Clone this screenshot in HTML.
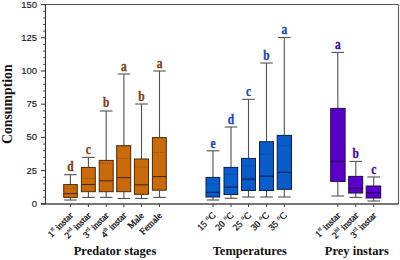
<!DOCTYPE html>
<html><head><meta charset="utf-8"><style>
html,body{margin:0;padding:0;background:#fff;width:400px;height:260px;overflow:hidden}
svg{display:block}
.yt{font-family:"Liberation Sans",sans-serif;font-size:9.5px;fill:#1a1a1a;stroke:#1a1a1a;stroke-width:0.15px}
.lt{font-family:"Liberation Serif",serif;font-weight:bold;font-size:14px}
.xt{font-family:"Liberation Serif",serif;font-size:9.2px;fill:#111;stroke:#111;stroke-width:0.3px}
.sup{font-size:5.3px;stroke-width:0.15px}
.deg{font-size:6px;stroke-width:0.15px}
.gt{font-family:"Liberation Serif",serif;font-weight:bold;font-size:12.5px;fill:#111}
.at{font-family:"Liberation Serif",serif;font-weight:bold;font-size:13.8px;fill:#111}
</style></head><body>
<svg width="400" height="260" viewBox="0 0 400 260">
<line x1="45.45" y1="4.5" x2="398.5" y2="4.5" stroke="#555" stroke-width="1.2"/>
<line x1="398.5" y1="4.5" x2="398.5" y2="204.0" stroke="#666" stroke-width="1.2"/>
<line x1="45.45" y1="3.9" x2="45.45" y2="204.6" stroke="#333" stroke-width="1.1"/>
<line x1="40.95" y1="204.0" x2="398.5" y2="204.0" stroke="#4a4a4a" stroke-width="1.3"/>
<line x1="41" y1="203.80" x2="45.45" y2="203.80" stroke="#333" stroke-width="1"/>
<text x="37" y="206.80" text-anchor="end" class="yt">0</text>
<line x1="43" y1="197.16" x2="45.45" y2="197.16" stroke="#444" stroke-width="0.9"/>
<line x1="43" y1="190.52" x2="45.45" y2="190.52" stroke="#444" stroke-width="0.9"/>
<line x1="43" y1="183.88" x2="45.45" y2="183.88" stroke="#444" stroke-width="0.9"/>
<line x1="43" y1="177.24" x2="45.45" y2="177.24" stroke="#444" stroke-width="0.9"/>
<line x1="41" y1="170.60" x2="45.45" y2="170.60" stroke="#333" stroke-width="1"/>
<text x="37" y="173.60" text-anchor="end" class="yt">25</text>
<line x1="43" y1="163.96" x2="45.45" y2="163.96" stroke="#444" stroke-width="0.9"/>
<line x1="43" y1="157.32" x2="45.45" y2="157.32" stroke="#444" stroke-width="0.9"/>
<line x1="43" y1="150.68" x2="45.45" y2="150.68" stroke="#444" stroke-width="0.9"/>
<line x1="43" y1="144.04" x2="45.45" y2="144.04" stroke="#444" stroke-width="0.9"/>
<line x1="41" y1="137.40" x2="45.45" y2="137.40" stroke="#333" stroke-width="1"/>
<text x="37" y="140.40" text-anchor="end" class="yt">50</text>
<line x1="43" y1="130.76" x2="45.45" y2="130.76" stroke="#444" stroke-width="0.9"/>
<line x1="43" y1="124.12" x2="45.45" y2="124.12" stroke="#444" stroke-width="0.9"/>
<line x1="43" y1="117.48" x2="45.45" y2="117.48" stroke="#444" stroke-width="0.9"/>
<line x1="43" y1="110.84" x2="45.45" y2="110.84" stroke="#444" stroke-width="0.9"/>
<line x1="41" y1="104.20" x2="45.45" y2="104.20" stroke="#333" stroke-width="1"/>
<text x="37" y="107.20" text-anchor="end" class="yt">75</text>
<line x1="43" y1="97.56" x2="45.45" y2="97.56" stroke="#444" stroke-width="0.9"/>
<line x1="43" y1="90.92" x2="45.45" y2="90.92" stroke="#444" stroke-width="0.9"/>
<line x1="43" y1="84.28" x2="45.45" y2="84.28" stroke="#444" stroke-width="0.9"/>
<line x1="43" y1="77.64" x2="45.45" y2="77.64" stroke="#444" stroke-width="0.9"/>
<line x1="41" y1="71.00" x2="45.45" y2="71.00" stroke="#333" stroke-width="1"/>
<text x="37" y="74.00" text-anchor="end" class="yt">100</text>
<line x1="43" y1="64.36" x2="45.45" y2="64.36" stroke="#444" stroke-width="0.9"/>
<line x1="43" y1="57.72" x2="45.45" y2="57.72" stroke="#444" stroke-width="0.9"/>
<line x1="43" y1="51.08" x2="45.45" y2="51.08" stroke="#444" stroke-width="0.9"/>
<line x1="43" y1="44.44" x2="45.45" y2="44.44" stroke="#444" stroke-width="0.9"/>
<line x1="41" y1="37.80" x2="45.45" y2="37.80" stroke="#333" stroke-width="1"/>
<text x="37" y="40.80" text-anchor="end" class="yt">125</text>
<line x1="43" y1="31.16" x2="45.45" y2="31.16" stroke="#444" stroke-width="0.9"/>
<line x1="43" y1="24.52" x2="45.45" y2="24.52" stroke="#444" stroke-width="0.9"/>
<line x1="43" y1="17.88" x2="45.45" y2="17.88" stroke="#444" stroke-width="0.9"/>
<line x1="43" y1="11.24" x2="45.45" y2="11.24" stroke="#444" stroke-width="0.9"/>
<line x1="41" y1="4.60" x2="45.45" y2="4.60" stroke="#333" stroke-width="1"/>
<text x="37" y="7.60" text-anchor="end" class="yt">150</text>
<line x1="70.4" y1="174.7" x2="70.4" y2="184.6" stroke="#525252" stroke-width="1.1"/>
<line x1="70.4" y1="197.4" x2="70.4" y2="200.0" stroke="#525252" stroke-width="1.1"/>
<line x1="64.10000000000001" y1="174.7" x2="76.7" y2="174.7" stroke="#525252" stroke-width="1.1"/>
<line x1="64.10000000000001" y1="200.0" x2="76.7" y2="200.0" stroke="#525252" stroke-width="1.1"/>
<rect x="63.7" y="184.6" width="13.60" height="12.80" fill="#C96A0C" stroke="#4a2a08" stroke-width="1"/>
<line x1="63.7" y1="193.5" x2="77.3" y2="193.5" stroke="#4a2a08" stroke-width="1.1"/>
<line x1="64.7" y1="188.5" x2="76.3" y2="188.5" stroke="#4a2a08" stroke-width="0.9" stroke-dasharray="1,1.2" opacity="0.45"/>
<text transform="translate(70.4,171.30) scale(0.82,1)" text-anchor="middle" class="lt" fill="#7E4414" stroke="#7E4414" stroke-width="0.35">d</text>
<line x1="70.4" y1="204.0" x2="70.4" y2="207.0" stroke="#444" stroke-width="1"/>
<line x1="88.4" y1="157.4" x2="88.4" y2="167.4" stroke="#525252" stroke-width="1.1"/>
<line x1="88.4" y1="191.7" x2="88.4" y2="197.4" stroke="#525252" stroke-width="1.1"/>
<line x1="82.10000000000001" y1="157.4" x2="94.7" y2="157.4" stroke="#525252" stroke-width="1.1"/>
<line x1="82.10000000000001" y1="197.4" x2="94.7" y2="197.4" stroke="#525252" stroke-width="1.1"/>
<rect x="81.4" y="167.4" width="13.90" height="24.30" fill="#C96A0C" stroke="#4a2a08" stroke-width="1"/>
<line x1="81.4" y1="184.5" x2="95.3" y2="184.5" stroke="#4a2a08" stroke-width="1.1"/>
<line x1="82.4" y1="178.5" x2="94.3" y2="178.5" stroke="#4a2a08" stroke-width="0.9" stroke-dasharray="1,1.2" opacity="0.45"/>
<text transform="translate(88.4,153.90) scale(0.82,1)" text-anchor="middle" class="lt" fill="#7E4414" stroke="#7E4414" stroke-width="0.35">c</text>
<line x1="88.4" y1="204.0" x2="88.4" y2="207.0" stroke="#444" stroke-width="1"/>
<line x1="106.2" y1="111.0" x2="106.2" y2="160.4" stroke="#525252" stroke-width="1.1"/>
<line x1="106.2" y1="191.7" x2="106.2" y2="197.4" stroke="#525252" stroke-width="1.1"/>
<line x1="99.9" y1="111.0" x2="112.5" y2="111.0" stroke="#525252" stroke-width="1.1"/>
<line x1="99.9" y1="197.4" x2="112.5" y2="197.4" stroke="#525252" stroke-width="1.1"/>
<rect x="99.2" y="160.4" width="14.00" height="31.30" fill="#C96A0C" stroke="#4a2a08" stroke-width="1"/>
<line x1="99.2" y1="180.8" x2="113.2" y2="180.8" stroke="#4a2a08" stroke-width="1.1"/>
<line x1="100.2" y1="163.6" x2="112.2" y2="163.6" stroke="#4a2a08" stroke-width="0.9" stroke-dasharray="1,1.2" opacity="0.45"/>
<text transform="translate(106.2,106.80) scale(0.82,1)" text-anchor="middle" class="lt" fill="#7E4414" stroke="#7E4414" stroke-width="0.35">b</text>
<line x1="106.2" y1="204.0" x2="106.2" y2="207.0" stroke="#444" stroke-width="1"/>
<line x1="123.9" y1="74.0" x2="123.9" y2="145.70000000000002" stroke="#525252" stroke-width="1.1"/>
<line x1="123.9" y1="191.7" x2="123.9" y2="198.5" stroke="#525252" stroke-width="1.1"/>
<line x1="117.60000000000001" y1="74.0" x2="130.20000000000002" y2="74.0" stroke="#525252" stroke-width="1.1"/>
<line x1="117.60000000000001" y1="198.5" x2="130.20000000000002" y2="198.5" stroke="#525252" stroke-width="1.1"/>
<rect x="116.7" y="145.70000000000002" width="14.00" height="46.00" fill="#C96A0C" stroke="#4a2a08" stroke-width="1"/>
<line x1="116.7" y1="177.60000000000002" x2="130.7" y2="177.60000000000002" stroke="#4a2a08" stroke-width="1.1"/>
<line x1="117.7" y1="158.4" x2="129.7" y2="158.4" stroke="#4a2a08" stroke-width="0.9" stroke-dasharray="1,1.2" opacity="0.45"/>
<text transform="translate(123.9,71.30) scale(0.82,1)" text-anchor="middle" class="lt" fill="#7E4414" stroke="#7E4414" stroke-width="0.35">a</text>
<line x1="123.9" y1="204.0" x2="123.9" y2="207.0" stroke="#444" stroke-width="1"/>
<line x1="141.5" y1="104.0" x2="141.5" y2="159.0" stroke="#525252" stroke-width="1.1"/>
<line x1="141.5" y1="194.3" x2="141.5" y2="198.5" stroke="#525252" stroke-width="1.1"/>
<line x1="135.2" y1="104.0" x2="147.8" y2="104.0" stroke="#525252" stroke-width="1.1"/>
<line x1="135.2" y1="198.5" x2="147.8" y2="198.5" stroke="#525252" stroke-width="1.1"/>
<rect x="134.39999999999998" y="159.0" width="14.10" height="35.30" fill="#C96A0C" stroke="#4a2a08" stroke-width="1"/>
<line x1="134.39999999999998" y1="184.8" x2="148.5" y2="184.8" stroke="#4a2a08" stroke-width="1.1"/>
<line x1="135.39999999999998" y1="167.0" x2="147.5" y2="167.0" stroke="#4a2a08" stroke-width="0.9" stroke-dasharray="1,1.2" opacity="0.45"/>
<text transform="translate(141.5,101.30) scale(0.82,1)" text-anchor="middle" class="lt" fill="#7E4414" stroke="#7E4414" stroke-width="0.35">b</text>
<line x1="141.5" y1="204.0" x2="141.5" y2="207.0" stroke="#444" stroke-width="1"/>
<line x1="159.5" y1="71.0" x2="159.5" y2="137.6" stroke="#525252" stroke-width="1.1"/>
<line x1="159.5" y1="190.2" x2="159.5" y2="197.4" stroke="#525252" stroke-width="1.1"/>
<line x1="153.2" y1="71.0" x2="165.8" y2="71.0" stroke="#525252" stroke-width="1.1"/>
<line x1="153.2" y1="197.4" x2="165.8" y2="197.4" stroke="#525252" stroke-width="1.1"/>
<rect x="152.39999999999998" y="137.6" width="13.90" height="52.60" fill="#C96A0C" stroke="#4a2a08" stroke-width="1"/>
<line x1="152.39999999999998" y1="176.60000000000002" x2="166.29999999999998" y2="176.60000000000002" stroke="#4a2a08" stroke-width="1.1"/>
<line x1="153.39999999999998" y1="152.4" x2="165.29999999999998" y2="152.4" stroke="#4a2a08" stroke-width="0.9" stroke-dasharray="1,1.2" opacity="0.45"/>
<text transform="translate(159.5,67.90) scale(0.82,1)" text-anchor="middle" class="lt" fill="#7E4414" stroke="#7E4414" stroke-width="0.35">a</text>
<line x1="159.5" y1="204.0" x2="159.5" y2="207.0" stroke="#444" stroke-width="1"/>
<line x1="213.0" y1="150.8" x2="213.0" y2="177.4" stroke="#525252" stroke-width="1.1"/>
<line x1="213.0" y1="197.0" x2="213.0" y2="200.0" stroke="#525252" stroke-width="1.1"/>
<line x1="206.7" y1="150.8" x2="219.3" y2="150.8" stroke="#525252" stroke-width="1.1"/>
<line x1="206.7" y1="200.0" x2="219.3" y2="200.0" stroke="#525252" stroke-width="1.1"/>
<rect x="206.0" y="177.4" width="13.70" height="19.60" fill="#0A5CC8" stroke="#08204a" stroke-width="1"/>
<line x1="206.0" y1="192.3" x2="219.7" y2="192.3" stroke="#08204a" stroke-width="1.1"/>
<line x1="207.0" y1="184.0" x2="218.7" y2="184.0" stroke="#08204a" stroke-width="0.9" stroke-dasharray="1,1.2" opacity="0.45"/>
<text transform="translate(213.0,147.80) scale(0.82,1)" text-anchor="middle" class="lt" fill="#1C4AA6" stroke="#1C4AA6" stroke-width="0.35">e</text>
<line x1="213.0" y1="204.0" x2="213.0" y2="207.0" stroke="#444" stroke-width="1"/>
<line x1="231.0" y1="127.0" x2="231.0" y2="167.4" stroke="#525252" stroke-width="1.1"/>
<line x1="231.0" y1="194.5" x2="231.0" y2="198.3" stroke="#525252" stroke-width="1.1"/>
<line x1="224.7" y1="127.0" x2="237.3" y2="127.0" stroke="#525252" stroke-width="1.1"/>
<line x1="224.7" y1="198.3" x2="237.3" y2="198.3" stroke="#525252" stroke-width="1.1"/>
<rect x="224.0" y="167.4" width="13.70" height="27.10" fill="#0A5CC8" stroke="#08204a" stroke-width="1"/>
<line x1="224.0" y1="187.10000000000002" x2="237.7" y2="187.10000000000002" stroke="#08204a" stroke-width="1.1"/>
<line x1="225.0" y1="174.4" x2="236.7" y2="174.4" stroke="#08204a" stroke-width="0.9" stroke-dasharray="1,1.2" opacity="0.45"/>
<text transform="translate(231.0,123.60) scale(0.82,1)" text-anchor="middle" class="lt" fill="#1C4AA6" stroke="#1C4AA6" stroke-width="0.35">d</text>
<line x1="231.0" y1="204.0" x2="231.0" y2="207.0" stroke="#444" stroke-width="1"/>
<line x1="248.5" y1="99.3" x2="248.5" y2="158.4" stroke="#525252" stroke-width="1.1"/>
<line x1="248.5" y1="190.5" x2="248.5" y2="197.0" stroke="#525252" stroke-width="1.1"/>
<line x1="242.2" y1="99.3" x2="254.8" y2="99.3" stroke="#525252" stroke-width="1.1"/>
<line x1="242.2" y1="197.0" x2="254.8" y2="197.0" stroke="#525252" stroke-width="1.1"/>
<rect x="241.5" y="158.4" width="14.00" height="32.10" fill="#0A5CC8" stroke="#08204a" stroke-width="1"/>
<line x1="241.5" y1="179.10000000000002" x2="255.5" y2="179.10000000000002" stroke="#08204a" stroke-width="1.1"/>
<line x1="242.5" y1="166.0" x2="254.5" y2="166.0" stroke="#08204a" stroke-width="0.9" stroke-dasharray="1,1.2" opacity="0.45"/>
<text transform="translate(248.5,95.80) scale(0.82,1)" text-anchor="middle" class="lt" fill="#1C4AA6" stroke="#1C4AA6" stroke-width="0.35">c</text>
<line x1="248.5" y1="204.0" x2="248.5" y2="207.0" stroke="#444" stroke-width="1"/>
<line x1="266.5" y1="63.0" x2="266.5" y2="141.70000000000002" stroke="#525252" stroke-width="1.1"/>
<line x1="266.5" y1="190.5" x2="266.5" y2="197.0" stroke="#525252" stroke-width="1.1"/>
<line x1="260.2" y1="63.0" x2="272.8" y2="63.0" stroke="#525252" stroke-width="1.1"/>
<line x1="260.2" y1="197.0" x2="272.8" y2="197.0" stroke="#525252" stroke-width="1.1"/>
<rect x="259.5" y="141.70000000000002" width="14.00" height="48.80" fill="#0A5CC8" stroke="#08204a" stroke-width="1"/>
<line x1="259.5" y1="176.10000000000002" x2="273.5" y2="176.10000000000002" stroke="#08204a" stroke-width="1.1"/>
<line x1="260.5" y1="154.0" x2="272.5" y2="154.0" stroke="#08204a" stroke-width="0.9" stroke-dasharray="1,1.2" opacity="0.45"/>
<text transform="translate(266.5,60.30) scale(0.82,1)" text-anchor="middle" class="lt" fill="#1C4AA6" stroke="#1C4AA6" stroke-width="0.35">b</text>
<line x1="266.5" y1="204.0" x2="266.5" y2="207.0" stroke="#444" stroke-width="1"/>
<line x1="284.3" y1="37.5" x2="284.3" y2="135.4" stroke="#525252" stroke-width="1.1"/>
<line x1="284.3" y1="189.3" x2="284.3" y2="197.0" stroke="#525252" stroke-width="1.1"/>
<line x1="278.0" y1="37.5" x2="290.6" y2="37.5" stroke="#525252" stroke-width="1.1"/>
<line x1="278.0" y1="197.0" x2="290.6" y2="197.0" stroke="#525252" stroke-width="1.1"/>
<rect x="277.2" y="135.4" width="14.30" height="53.90" fill="#0A5CC8" stroke="#08204a" stroke-width="1"/>
<line x1="277.2" y1="172.3" x2="291.5" y2="172.3" stroke="#08204a" stroke-width="1.1"/>
<line x1="278.2" y1="145.6" x2="290.5" y2="145.6" stroke="#08204a" stroke-width="0.9" stroke-dasharray="1,1.2" opacity="0.45"/>
<text transform="translate(284.3,34.10) scale(0.82,1)" text-anchor="middle" class="lt" fill="#1C4AA6" stroke="#1C4AA6" stroke-width="0.35">a</text>
<line x1="284.3" y1="204.0" x2="284.3" y2="207.0" stroke="#444" stroke-width="1"/>
<line x1="337.8" y1="52.4" x2="337.8" y2="108.4" stroke="#525252" stroke-width="1.1"/>
<line x1="337.8" y1="181.4" x2="337.8" y2="196.0" stroke="#525252" stroke-width="1.1"/>
<line x1="331.5" y1="52.4" x2="344.1" y2="52.4" stroke="#525252" stroke-width="1.1"/>
<line x1="331.5" y1="196.0" x2="344.1" y2="196.0" stroke="#525252" stroke-width="1.1"/>
<rect x="330.7" y="108.4" width="14.40" height="73.00" fill="#5A00C8" stroke="#22084a" stroke-width="1"/>
<line x1="330.7" y1="161.3" x2="345.09999999999997" y2="161.3" stroke="#22084a" stroke-width="1.1"/>
<text transform="translate(337.8,48.70) scale(0.82,1)" text-anchor="middle" class="lt" fill="#3E0E9C" stroke="#3E0E9C" stroke-width="0.35">a</text>
<line x1="337.8" y1="204.0" x2="337.8" y2="207.0" stroke="#444" stroke-width="1"/>
<line x1="355.8" y1="161.4" x2="355.8" y2="176.4" stroke="#525252" stroke-width="1.1"/>
<line x1="355.8" y1="193.0" x2="355.8" y2="197.4" stroke="#525252" stroke-width="1.1"/>
<line x1="349.5" y1="161.4" x2="362.1" y2="161.4" stroke="#525252" stroke-width="1.1"/>
<line x1="349.5" y1="197.4" x2="362.1" y2="197.4" stroke="#525252" stroke-width="1.1"/>
<rect x="348.7" y="176.4" width="14.00" height="16.60" fill="#5A00C8" stroke="#22084a" stroke-width="1"/>
<line x1="348.7" y1="188.3" x2="362.7" y2="188.3" stroke="#22084a" stroke-width="1.1"/>
<text transform="translate(355.8,158.30) scale(0.82,1)" text-anchor="middle" class="lt" fill="#3E0E9C" stroke="#3E0E9C" stroke-width="0.35">b</text>
<line x1="355.8" y1="204.0" x2="355.8" y2="207.0" stroke="#444" stroke-width="1"/>
<line x1="373.7" y1="177.0" x2="373.7" y2="186.0" stroke="#525252" stroke-width="1.1"/>
<line x1="373.7" y1="198.0" x2="373.7" y2="201.0" stroke="#525252" stroke-width="1.1"/>
<line x1="367.4" y1="177.0" x2="380.0" y2="177.0" stroke="#525252" stroke-width="1.1"/>
<line x1="367.4" y1="201.0" x2="380.0" y2="201.0" stroke="#525252" stroke-width="1.1"/>
<rect x="366.2" y="186.0" width="14.50" height="12.00" fill="#5A00C8" stroke="#22084a" stroke-width="1"/>
<line x1="366.2" y1="192.9" x2="380.7" y2="192.9" stroke="#22084a" stroke-width="1.1"/>
<text transform="translate(373.7,173.90) scale(0.82,1)" text-anchor="middle" class="lt" fill="#3E0E9C" stroke="#3E0E9C" stroke-width="0.35">c</text>
<line x1="373.7" y1="204.0" x2="373.7" y2="207.0" stroke="#444" stroke-width="1"/>
<text transform="translate(73.40,216.0) rotate(-45)" text-anchor="end" class="xt">1<tspan class="sup" dy="-4.3">st</tspan><tspan dy="4.3"> instar</tspan></text>
<text transform="translate(91.40,216.0) rotate(-45)" text-anchor="end" class="xt">2<tspan class="sup" dy="-4.3">nd</tspan><tspan dy="4.3"> instar</tspan></text>
<text transform="translate(109.20,216.0) rotate(-45)" text-anchor="end" class="xt">3<tspan class="sup" dy="-4.3">rd</tspan><tspan dy="4.3"> instar</tspan></text>
<text transform="translate(126.90,216.0) rotate(-45)" text-anchor="end" class="xt">4<tspan class="sup" dy="-4.3">th</tspan><tspan dy="4.3"> instar</tspan></text>
<text transform="translate(144.50,216.0) rotate(-45)" text-anchor="end" class="xt">Male</text>
<text transform="translate(162.50,216.0) rotate(-45)" text-anchor="end" class="xt">Female</text>
<text transform="translate(216.00,216.0) rotate(-45)" text-anchor="end" class="xt">15 <tspan class="deg" dx="0.7" dy="-3.5">o</tspan><tspan dy="3.5">C</tspan></text>
<text transform="translate(234.00,216.0) rotate(-45)" text-anchor="end" class="xt">20 <tspan class="deg" dx="0.7" dy="-3.5">o</tspan><tspan dy="3.5">C</tspan></text>
<text transform="translate(251.50,216.0) rotate(-45)" text-anchor="end" class="xt">25 <tspan class="deg" dx="0.7" dy="-3.5">o</tspan><tspan dy="3.5">C</tspan></text>
<text transform="translate(269.50,216.0) rotate(-45)" text-anchor="end" class="xt">30 <tspan class="deg" dx="0.7" dy="-3.5">o</tspan><tspan dy="3.5">C</tspan></text>
<text transform="translate(287.30,216.0) rotate(-45)" text-anchor="end" class="xt">35 <tspan class="deg" dx="0.7" dy="-3.5">o</tspan><tspan dy="3.5">C</tspan></text>
<text transform="translate(340.80,216.0) rotate(-45)" text-anchor="end" class="xt">1<tspan class="sup" dy="-4.3">st</tspan><tspan dy="4.3"> instar</tspan></text>
<text transform="translate(358.80,216.0) rotate(-45)" text-anchor="end" class="xt">2<tspan class="sup" dy="-4.3">nd</tspan><tspan dy="4.3"> instar</tspan></text>
<text transform="translate(376.70,216.0) rotate(-45)" text-anchor="end" class="xt">3<tspan class="sup" dy="-4.3">rd</tspan><tspan dy="4.3"> instar</tspan></text>
<text x="115" y="255.3" text-anchor="middle" class="gt">Predator stages</text>
<text x="249.8" y="255.3" text-anchor="middle" class="gt">Temperatures</text>
<text x="356.8" y="255.3" text-anchor="middle" class="gt">Prey instars</text>
<text transform="translate(12.1,104.2) rotate(-90)" text-anchor="middle" class="at">Consumption</text>
</svg>
</body></html>
